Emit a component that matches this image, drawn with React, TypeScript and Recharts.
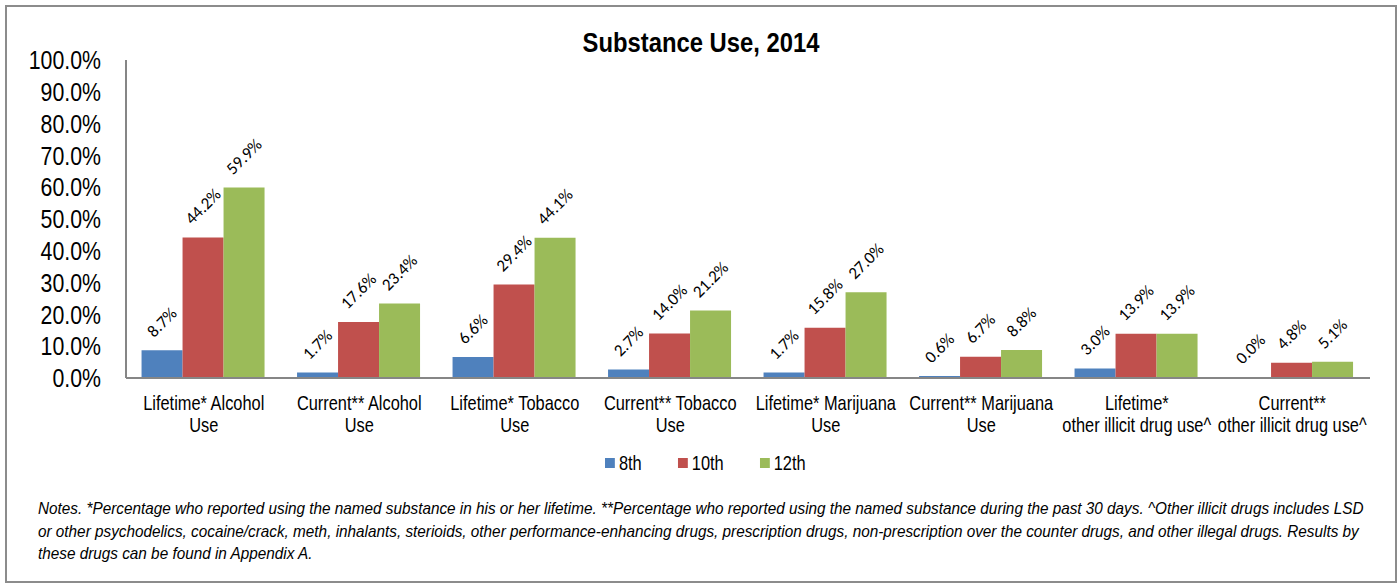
import { BarChart, Bar, XAxis, YAxis, LabelList } from "recharts";

// Arial Narrow is not installed, so Liberation Sans is squeezed horizontally
const SANS = '"Liberation Sans", Arial, sans-serif';
const NARROW = 0.82;
const LABEL_FONT = 'Carlito, Calibri, Lato, "Open Sans", sans-serif';

const categories = [
  "Lifetime* Alcohol\nUse",
  "Current** Alcohol\nUse",
  "Lifetime* Tobacco\nUse",
  "Current** Tobacco\nUse",
  "Lifetime* Marijuana\nUse",
  "Current** Marijuana\nUse",
  "Lifetime*\nother illicit drug use^",
  "Current**\nother illicit drug use^",
];

const grade8 = [8.7, 1.7, 6.6, 2.7, 1.7, 0.6, 3.0, 0.0];
const grade10 = [44.2, 17.6, 29.4, 14.0, 15.8, 6.7, 13.9, 4.8];
const grade12 = [59.9, 23.4, 44.1, 21.2, 27.0, 8.8, 13.9, 5.1];

const yTicks = [0, 10, 20, 30, 40, 50, 60, 70, 80, 90, 100];

const series = [
  { key: "g8", name: "8th", color: "#4F81BD" },
  { key: "g10", name: "10th", color: "#C0504D" },
  { key: "g12", name: "12th", color: "#9BBB59" },
];

const noteLines = [
  "Notes. *Percentage who reported using the named substance in his or her lifetime. **Percentage who reported using the named substance during the past 30 days. ^Other illicit drugs includes LSD",
  "or other psychodelics, cocaine/crack, meth, inhalants, sterioids, other performance-enhancing drugs, prescription drugs, non-prescription over the counter drugs, and other illegal drugs. Results by",
  "these drugs can be found in Appendix A.",
];

const data = categories.map((name, i) => ({
  name,
  g8: grade8[i],
  g10: grade10[i],
  g12: grade12[i],
}));

function CategoryTick({ x, y, payload }: any) {
  const lines = String(payload.value).split("\n");
  return (
    <g transform={`translate(${x},${y}) scale(${NARROW},1)`}>
      <text x={0} y={0} textAnchor="middle" fontFamily={SANS} fontSize={20} fill="#000">
        {lines.map((l, i) => (
          <tspan key={i} x={0} dy={i === 0 ? 32 : 22}>
            {l}
          </tspan>
        ))}
      </text>
    </g>
  );
}

function PercentTick({ x, y, payload }: any) {
  return (
    <g transform={`translate(${x},${y}) scale(${NARROW},1)`}>
      <text x={0} y={0} dy="0.355em" textAnchor="end" fontFamily={SANS} fontSize={26} fill="#000">
        {Number(payload.value).toFixed(1) + "%"}
      </text>
    </g>
  );
}

function renderLabel(props: any) {
  const { x, y, width, value } = props;
  const text = Number(value).toFixed(1) + "%";
  const fs = 17;
  const cx = Number(x) + Number(width) / 2;
  const half = (text.length * 0.5 * fs + 0.65 * fs) / 2.83;
  const cy = Number(y) - 12 - half;
  return (
    <text
      x={cx}
      y={cy}
      textAnchor="middle"
      dominantBaseline="central"
      transform={`rotate(-45 ${cx} ${cy})`}
      fontFamily={LABEL_FONT}
      fontSize={fs}
      fill="#000"
    >
      {text}
    </text>
  );
}

export default function App() {
  return (
    <div
      style={{
        position: "fixed",
        left: 0,
        top: 0,
        width: 1400,
        height: 586,
        background: "#fff",
        overflow: "hidden",
      }}
    >
      <div
        style={{
          position: "absolute",
          left: 5,
          top: 5,
          width: 1392,
          height: 578,
          border: "2px solid #8c8c8c",
          boxSizing: "border-box",
        }}
      />
      <div
        style={{
          position: "absolute",
          left: 0,
          top: 29,
          width: 1402,
          textAlign: "center",
          fontFamily: SANS,
          fontWeight: "bold",
          fontSize: 28,
          lineHeight: "28px",
          transform: "scaleX(0.85)",
          transformOrigin: "701px 0",
        }}
      >
        Substance Use, 2014
      </div>
      <div style={{ position: "absolute", left: 0, top: 0 }}>
        <BarChart
          width={1400}
          height={480}
          data={data}
          margin={{ top: 60, right: 30, left: 16, bottom: 52 }}
          barCategoryGap="10%"
          barGap={0}
        >
          <XAxis
            dataKey="name"
            height={50}
            interval={0}
            tickLine={false}
            tickSize={0}
            tickMargin={0}
            axisLine={{ stroke: "#868686", strokeWidth: 2 }}
            tick={<CategoryTick />}
          />
          <YAxis
            width={110}
            domain={[0, 100]}
            ticks={yTicks}
            interval={0}
            tickLine={false}
            tickSize={0}
            tickMargin={25}
            axisLine={{ stroke: "#868686", strokeWidth: 2 }}
            tick={<PercentTick />}
          />
          {series.map((s) => (
            <Bar
              key={s.key}
              dataKey={s.key}
              name={s.name}
              fill={s.color}
              minPointSize={1}
              isAnimationActive={false}
            >
              <LabelList dataKey={s.key} content={renderLabel} />
            </Bar>
          ))}
        </BarChart>
      </div>
      <div
        style={{
          position: "absolute",
          left: 605,
          top: 451,
          height: 24,
          display: "flex",
          alignItems: "center",
          fontFamily: SANS,
          fontSize: 20,
          whiteSpace: "nowrap",
          transform: `scaleX(${NARROW})`,
          transformOrigin: "0 0",
        }}
      >
        {series.map((s) => (
          <div key={s.key} style={{ display: "flex", alignItems: "center", marginRight: 44 }}>
            <div style={{ width: 12, height: 10, background: s.color, marginRight: 5 }} />
            <span>{s.name}</span>
          </div>
        ))}
      </div>
      <div
        style={{
          position: "absolute",
          left: 38,
          top: 498,
          fontFamily: SANS,
          fontStyle: "italic",
          fontSize: 17,
          lineHeight: "22.5px",
          whiteSpace: "nowrap",
          transform: "scaleX(0.9)",
          transformOrigin: "0 0",
        }}
      >
        {noteLines.map((l, i) => (
          <div key={i}>{l}</div>
        ))}
      </div>
    </div>
  );
}
